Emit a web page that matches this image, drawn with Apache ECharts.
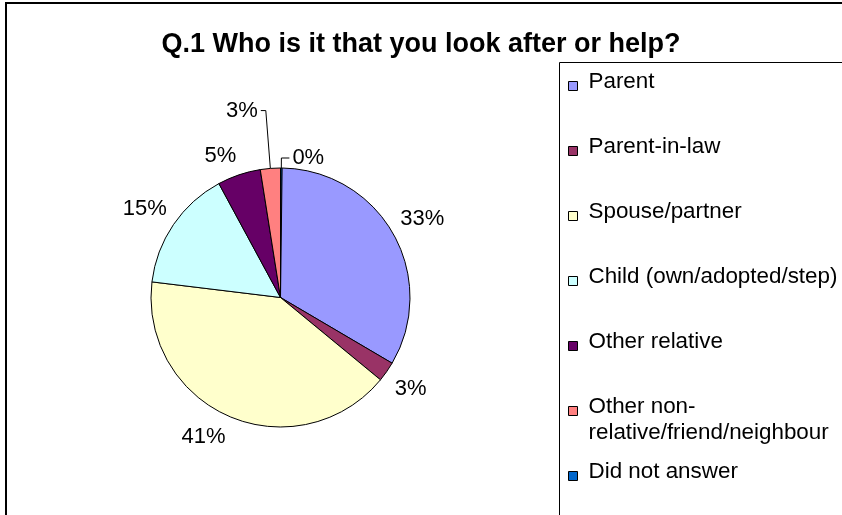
<!DOCTYPE html>
<html>
<head>
<meta charset="utf-8">
<script src="https://cdn.jsdelivr.net/npm/echarts@6/dist/echarts.min.js"></script>
<style>
html,body{margin:0;padding:0;background:#fff;}
#c{width:842px;height:515px;}
</style>
</head>
<body>
<div id="c"></div>
<script>
const titleText = 'Q.1 Who is it that you look after or help?';
const categories = ['Parent', 'Parent-in-law', 'Spouse/partner', 'Child (own/adopted/step)', 'Other relative', 'Other non-relative/friend/neighbour', 'Did not answer'];
const values = [33.3, 2.5, 41.0, 15.2, 5.4, 2.5, 0.2];
const colors = ['#9999FF', '#993366', '#FFFFCC', '#CCFFFF', '#660066', '#FF8080', '#0066CC'];
// drawing order: "Did not answer" first so it sits just right of 12 o'clock
const drawOrder = [6, 0, 1, 2, 3, 4, 5];
// items whose labels use a visible leader line
const leaders = { 5: { length: 58, length2: 5 }, 6: { length: 10, length2: 8 } };

const FONT = '"Liberation Sans", Arial, sans-serif';

const pieData = drawOrder.map(function (i) {
  const L = leaders[i];
  return {
    name: categories[i],
    value: values[i],
    itemStyle: { color: colors[i] },
    labelLine: L
      ? { show: true, length: L.length, length2: L.length2, lineStyle: { color: '#000', width: 1, opacity: 1 } }
      : { show: true, length: 10, length2: 1, lineStyle: { opacity: 0 } }
  };
});

const legendFont = { fontFamily: FONT, fontSize: 22.4, color: '#000' };

const chart = echarts.init(document.getElementById('c'), null, { renderer: 'canvas' });
chart.setOption({
  animation: false,
  backgroundColor: '#fff',
  title: {
    text: titleText,
    left: 'center',
    top: 31,
    padding: 0,
    textStyle: { fontFamily: FONT, fontSize: 27, fontWeight: 'bold', color: '#000' }
  },
  legend: {
    orient: 'vertical',
    left: 568,
    top: 71,
    width: 270,
    height: 500,
    padding: 0,
    data: categories,
    icon: 'rect',
    itemWidth: 9,
    itemHeight: 9,
    itemGap: 17,
    selectedMode: false,
    // first line tall, second line short: text sits a little above the swatch
    // and the wrapped entry keeps the common spacing
    formatter: function (n) {
      const k = n.indexOf('non-');
      if (k >= 0) {
        return '{a|' + n.slice(0, k + 4) + '}\n{b|' + n.slice(k + 4) + '}';
      }
      return '{a|' + n + '}\n{b| }';
    },
    itemStyle: { borderColor: '#000', borderWidth: 1 },
    textStyle: Object.assign({
      padding: [0, 0, 0, 6],
      rich: {
        a: Object.assign({ lineHeight: 44 }, legendFont),
        b: Object.assign({ lineHeight: 8 }, legendFont)
      }
    }, legendFont)
  },
  graphic: [
    { type: 'rect', silent: true, z: -1, shape: { x: 6, y: 3, width: 1000, height: 1000 }, style: { fill: 'none', stroke: '#000', lineWidth: 2 } },
    { type: 'rect', silent: true, z: -1, shape: { x: 559.5, y: 62.5, width: 400, height: 600 }, style: { fill: 'none', stroke: '#000', lineWidth: 1 } }
  ],
  series: [{
    type: 'pie',
    center: [280.5, 297.5],
    radius: 129.5,
    startAngle: 90,
    clockwise: true,
    avoidLabelOverlap: false,
    emphasis: { disabled: true },
    itemStyle: { borderColor: '#000', borderWidth: 1 },
    label: {
      show: true,
      position: 'outside',
      distanceToLabelLine: 3,
      fontFamily: FONT,
      fontSize: 22,
      color: '#000',
      formatter: function (p) { return Math.round(p.value) + '%'; }
    },
    labelLayout: function (p) {
      const ci = drawOrder[p.dataIndex];
      if (leaders[ci] || !p.labelLinePoints) return {};
      const a = p.labelLinePoints[0], b = p.labelLinePoints[1];
      const dx = b[0] - a[0], dy = b[1] - a[1];
      const len = Math.hypot(dx, dy) || 1;
      const ux = dx / len, uy = dy / len;
      const gap = uy < 0 ? 8 : 10;
      return {
        x: a[0] + ux * gap,
        y: a[1] + uy * gap,
        align: ux >= 0 ? 'left' : 'right',
        verticalAlign: uy < 0 ? 'bottom' : 'top'
      };
    },
    data: pieData
  }]
});
</script>
</body>
</html>
